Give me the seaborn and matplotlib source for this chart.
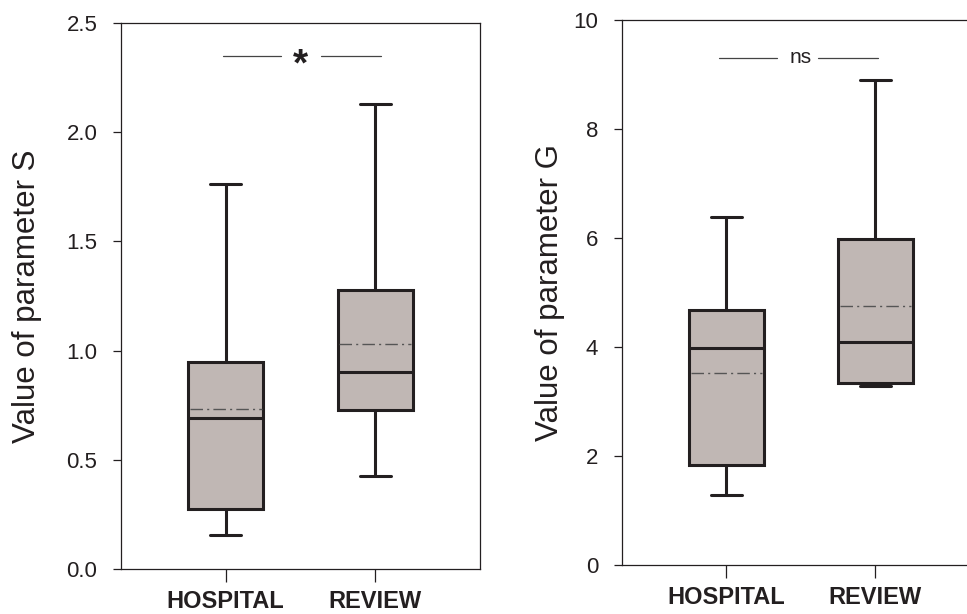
import numpy as np
import pandas as pd
import matplotlib.pyplot as plt
import seaborn as sns

sns.set_theme(style="ticks")
plt.rcParams['font.family'] = ['Liberation Sans', 'DejaVu Sans']

groups = ['HOSPITAL', 'REVIEW']

# parameter S
s_low = [0.156, 0.426]
s_q1 = [0.275, 0.727]
s_median = [0.69, 0.90]
s_q3 = [0.948, 1.277]
s_high = [1.762, 2.128]
s_mean = [0.733, 1.03]

# parameter G
g_low = [1.29, 3.28]
g_q1 = [1.83, 3.34]
g_median = [3.99, 4.09]
g_q3 = [4.68, 5.99]
g_high = [6.38, 8.90]
g_mean = [3.53, 4.76]

ink = '#231f20'
fill = '#c0b7b4'


def five_point(low, q1, med, q3, high):
    # five values whose min/quartiles/max give exactly these box stats
    rows = []
    for i, g in enumerate(groups):
        for v in (low[i], q1[i], med[i], q3[i], high[i]):
            rows.append({'group': g, 'value': v})
    return pd.DataFrame(rows)


df_s = five_point(s_low, s_q1, s_median, s_q3, s_high)
df_g = five_point(g_low, g_q1, g_median, g_q3, g_high)

fig = plt.figure(figsize=(9.67, 6.14), dpi=100)
ax1 = fig.add_axes([0.1251, 0.0733, 0.3713, 0.8893])
ax2 = fig.add_axes([0.6432, 0.0798, 0.3698, 0.8876])

panels = [
    (ax1, df_s, s_mean, 'Value of parameter S', (0, 2.5), np.arange(0, 2.51, 0.5), '{:.1f}',
     2.35, '*', [(-0.015, 0.367), (0.636, 1.04)], -0.22),
    (ax2, df_g, g_mean, 'Value of parameter G', (0, 10), np.arange(0, 11, 2), '{:.0f}',
     9.31, 'ns', [(-0.05, 0.34), (0.615, 1.02)], -0.16),
]

for ax, df, means, ylabel, ylim, yticks, fmt, sig_y, sig_txt, segs, lab_x in panels:
    sns.boxplot(data=df, x='group', y='value', order=groups, ax=ax,
                width=0.5, whis=(0, 100), color=fill, saturation=1,
                linecolor=ink, linewidth=2.2, showfliers=False)
    pos = np.arange(len(groups))

    # narrower whisker caps, like the original
    for ln in ax.lines:
        xd = np.asarray(ln.get_xdata(), dtype=float)
        yd = np.asarray(ln.get_ydata(), dtype=float)
        if len(xd) == 2 and yd[0] == yd[1] and abs((xd[1] - xd[0]) - 0.25) < 0.02:
            c = xd.mean()
            ln.set_xdata([c - 0.105, c + 0.105])

    ax.hlines(means, pos - 0.24, pos + 0.24, colors='#555555',
              linewidth=1.0, linestyles=(0, (9, 3, 1.5, 3)), zorder=5)

    # significance bracket
    for x0, x1 in segs:
        ax.plot([x0, x1], [sig_y, sig_y], color='#444444', lw=0.9)
    span = ylim[1] - ylim[0]
    if sig_txt == '*':
        ax.text(0.5, sig_y - 0.036 * span, '*', ha='center', va='baseline',
                fontsize=28, fontweight='bold', color=ink)
    else:
        ax.text(0.5, sig_y, 'ns', ha='center', va='center', fontsize=15,
                color=ink)

    ax.set_xlim(-0.7, 1.7)
    ax.set_ylim(*ylim)
    ax.set_yticks(yticks)
    ax.set_yticklabels([fmt.format(v) for v in yticks])
    ax.set_xticks(pos)
    ax.set_xticklabels(groups, fontweight='bold', fontsize=17, color=ink)
    ax.set_xlabel('')
    ax.set_ylabel(ylabel, fontsize=22.5, color=ink)
    ax.yaxis.set_label_coords(lab_x, 0.5)
    ax.tick_params(axis='y', labelsize=16, length=6, width=0.9,
                   pad=11, colors=ink, labelcolor=ink)
    ax.tick_params(axis='x', length=9, width=0.9, pad=6, colors=ink)
    for sp in ax.spines.values():
        sp.set_visible(True)
        sp.set_color(ink)
        sp.set_linewidth(0.9)

fig.savefig('out.png', dpi=100)
